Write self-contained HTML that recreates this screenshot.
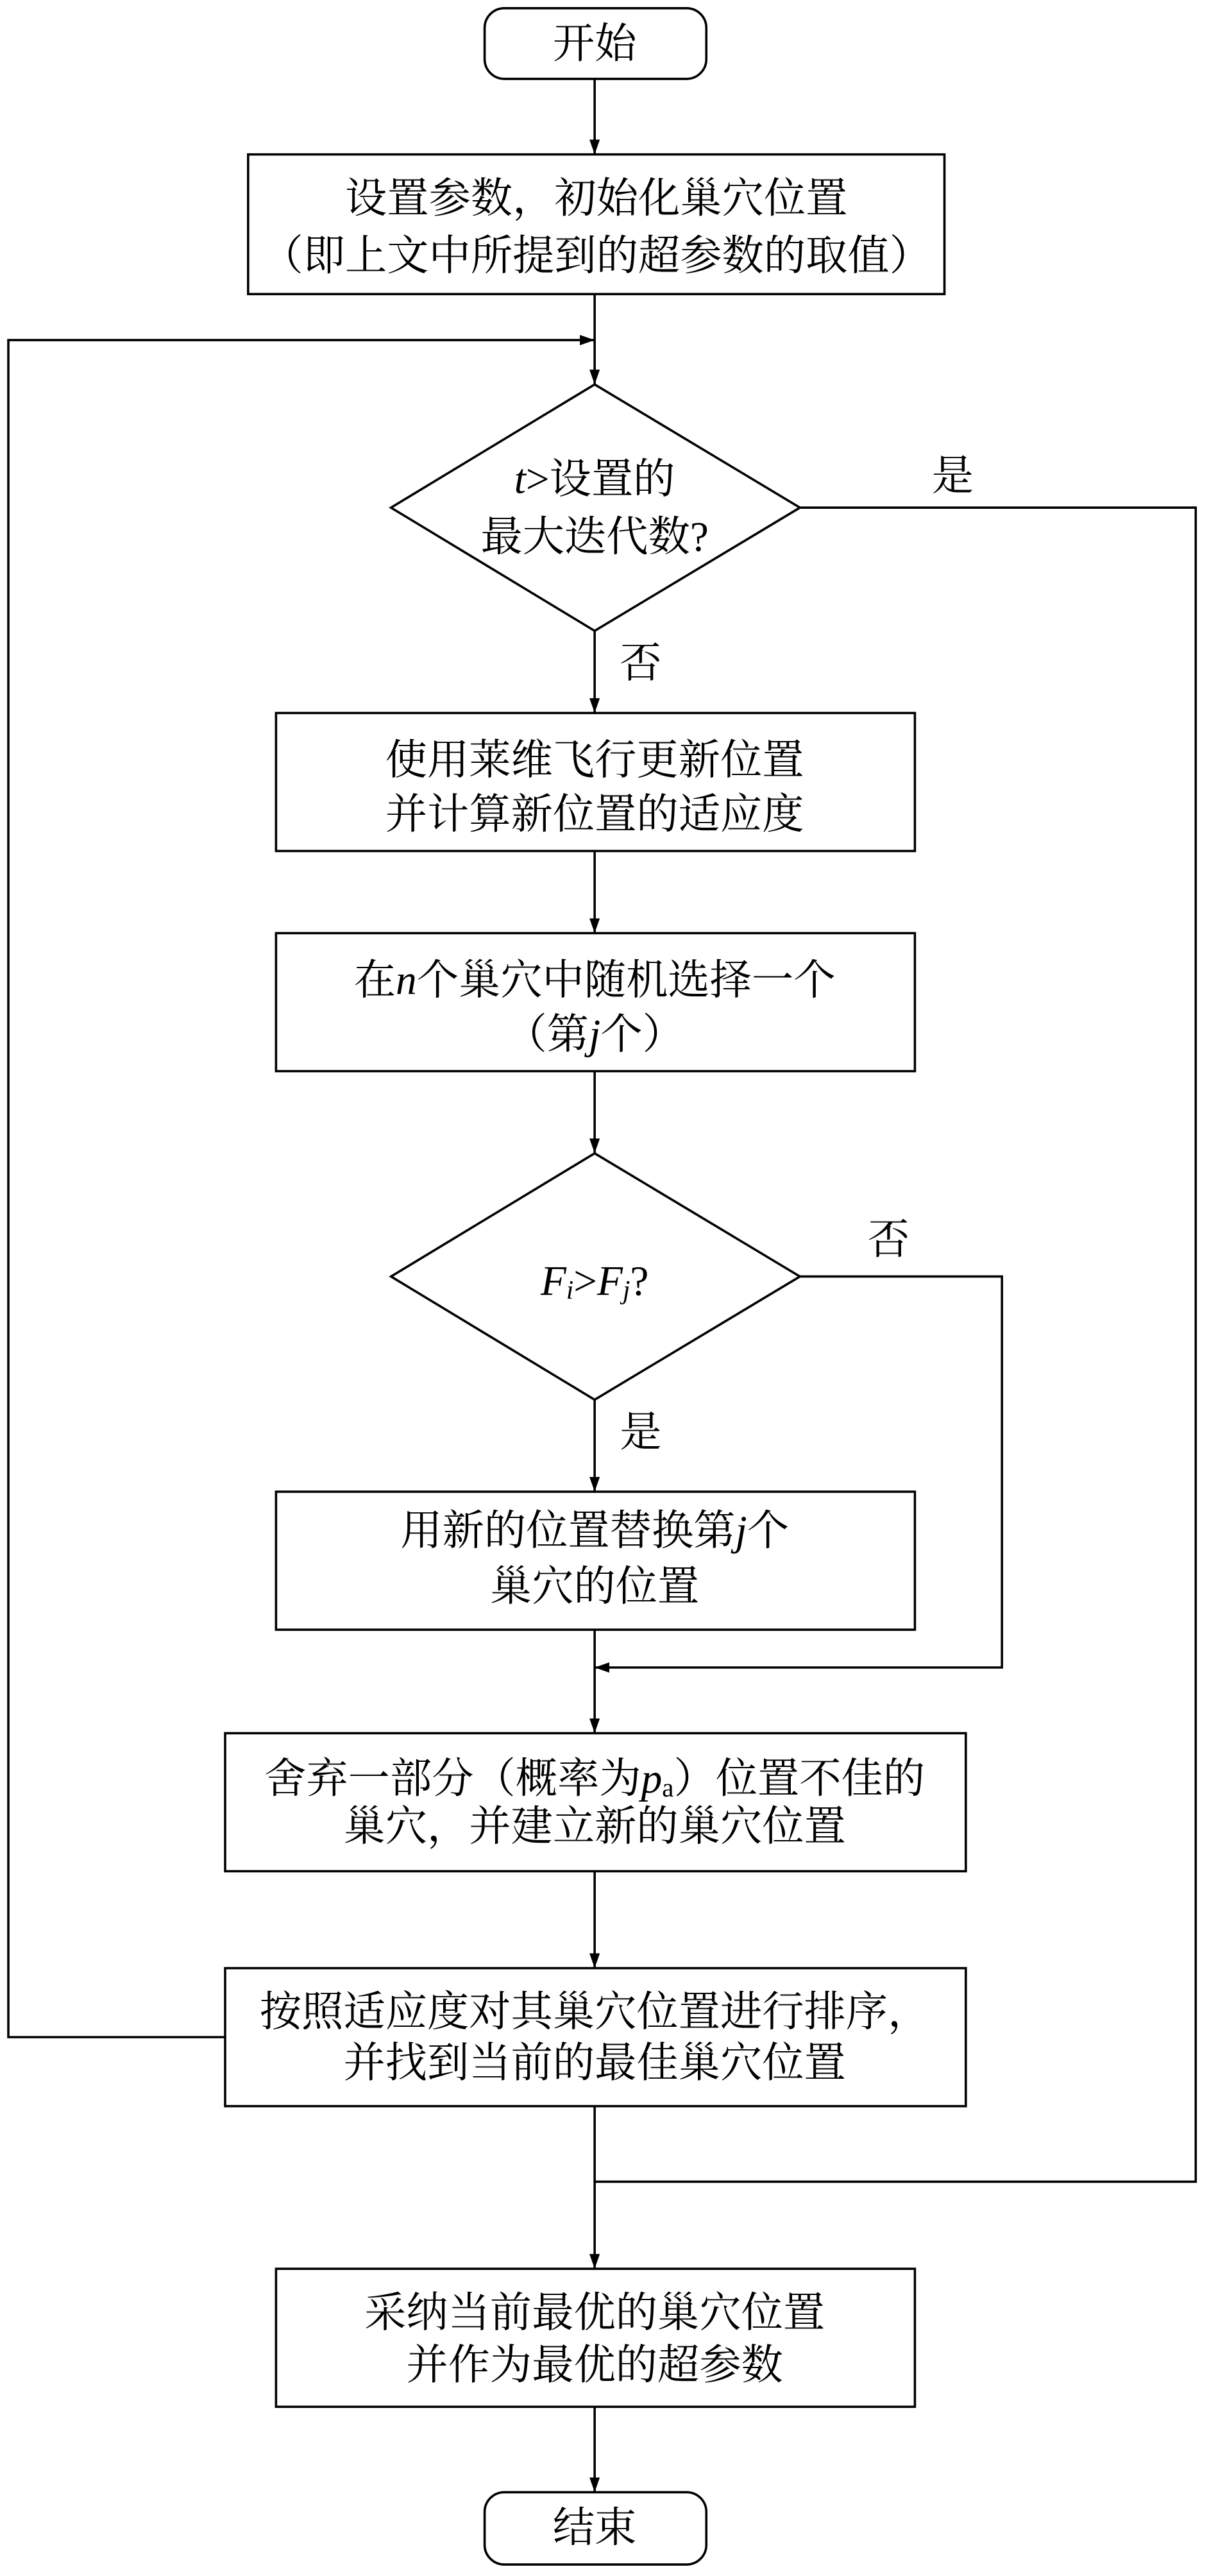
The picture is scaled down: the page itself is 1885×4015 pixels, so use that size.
<!DOCTYPE html>
<html><head><meta charset="utf-8"><style>
html,body{margin:0;padding:0;background:#fff;}
svg{display:block;}
text{font-family:"Liberation Serif","Noto Serif CJK SC",serif;font-size:25.5px;fill:#000;text-anchor:middle;dominant-baseline:central;}
.i{font-style:italic;}
</style></head><body>
<svg width="1885" height="4015" viewBox="0 0 736 1568" xmlns="http://www.w3.org/2000/svg">
<defs><marker id="a" viewBox="0 0 10 10" refX="10" refY="5" markerWidth="9" markerHeight="9" markerUnits="userSpaceOnUse" orient="auto"><path d="M0,1.5 L10,5 L0,8.5 z" fill="#000"/></marker></defs>
<g fill="none" stroke="#000" stroke-width="1.4">
<rect x="295" y="5" width="135" height="43" rx="12"/>
<rect x="151" y="94" width="424" height="85"/>
<polygon points="362,234 487,309 362,384 238,309"/>
<rect x="168" y="434" width="389" height="84"/>
<rect x="168" y="568" width="389" height="84"/>
<polygon points="362,702 487,777 362,852 238,777"/>
<rect x="168" y="908" width="389" height="84"/>
<rect x="137" y="1055" width="451" height="84"/>
<rect x="137" y="1198" width="451" height="84"/>
<rect x="168" y="1381" width="389" height="84"/>
<rect x="295" y="1517" width="135" height="44" rx="12"/>
<line x1="362" y1="48" x2="362" y2="94" marker-end="url(#a)"/>
<line x1="362" y1="179" x2="362" y2="234" marker-end="url(#a)"/>
<polyline points="137,1240 5,1240 5,207 362,207" marker-end="url(#a)"/>
<polyline points="487,309 728,309 728,1328 362,1328 362,1381" marker-end="url(#a)"/>
<line x1="362" y1="1282" x2="362" y2="1328"/>
<line x1="362" y1="384" x2="362" y2="434" marker-end="url(#a)"/>
<line x1="362" y1="518" x2="362" y2="568" marker-end="url(#a)"/>
<line x1="362" y1="652" x2="362" y2="702" marker-end="url(#a)"/>
<line x1="362" y1="852" x2="362" y2="908" marker-end="url(#a)"/>
<polyline points="487,777 610,777 610,1015 362,1015" marker-end="url(#a)"/>
<line x1="362" y1="992" x2="362" y2="1055" marker-end="url(#a)"/>
<line x1="362" y1="1139" x2="362" y2="1198" marker-end="url(#a)"/>
<line x1="362" y1="1465" x2="362" y2="1517" marker-end="url(#a)"/>
</g>
<text x="362" y="27">开始</text>
<text x="363" y="121">设置参数，初始化巢穴位置</text>
<text x="363" y="156">（即上文中所提到的超参数的取值）</text>
<text x="362" y="292"><tspan class="i">t</tspan>&gt;设置的</text>
<text x="362" y="327">最大迭代数?</text>
<text x="580" y="290">是</text>
<text x="390" y="404">否</text>
<text x="362" y="463">使用莱维飞行更新位置</text>
<text x="362" y="496">并计算新位置的适应度</text>
<text x="362" y="597">在<tspan class="i">n</tspan>个巢穴中随机选择一个</text>
<text x="362" y="630">（第<tspan class="i">j</tspan>个）</text>
<text x="362" y="780"><tspan class="i">F</tspan><tspan class="i" font-size="16" dy="5">i</tspan><tspan dy="-5">&gt;</tspan><tspan class="i">F</tspan><tspan class="i" font-size="16" dy="5">j</tspan><tspan dy="-5">?</tspan></text>
<text x="541" y="755">否</text>
<text x="390" y="872">是</text>
<text x="362" y="932">用新的位置替换第<tspan class="i">j</tspan>个</text>
<text x="362" y="966">巢穴的位置</text>
<text x="362" y="1083">舍弃一部分（概率为<tspan class="i">p</tspan><tspan font-size="16" dy="5">a</tspan><tspan dy="-5">）位置不佳的</tspan></text>
<text x="362" y="1112">巢穴，并建立新的巢穴位置</text>
<text x="362" y="1225">按照适应度对其巢穴位置进行排序，</text>
<text x="362" y="1256">并找到当前的最佳巢穴位置</text>
<text x="362" y="1408">采纳当前最优的巢穴位置</text>
<text x="362" y="1440">并作为最优的超参数</text>
<text x="362" y="1539">结束</text>
</svg>
</body></html>
